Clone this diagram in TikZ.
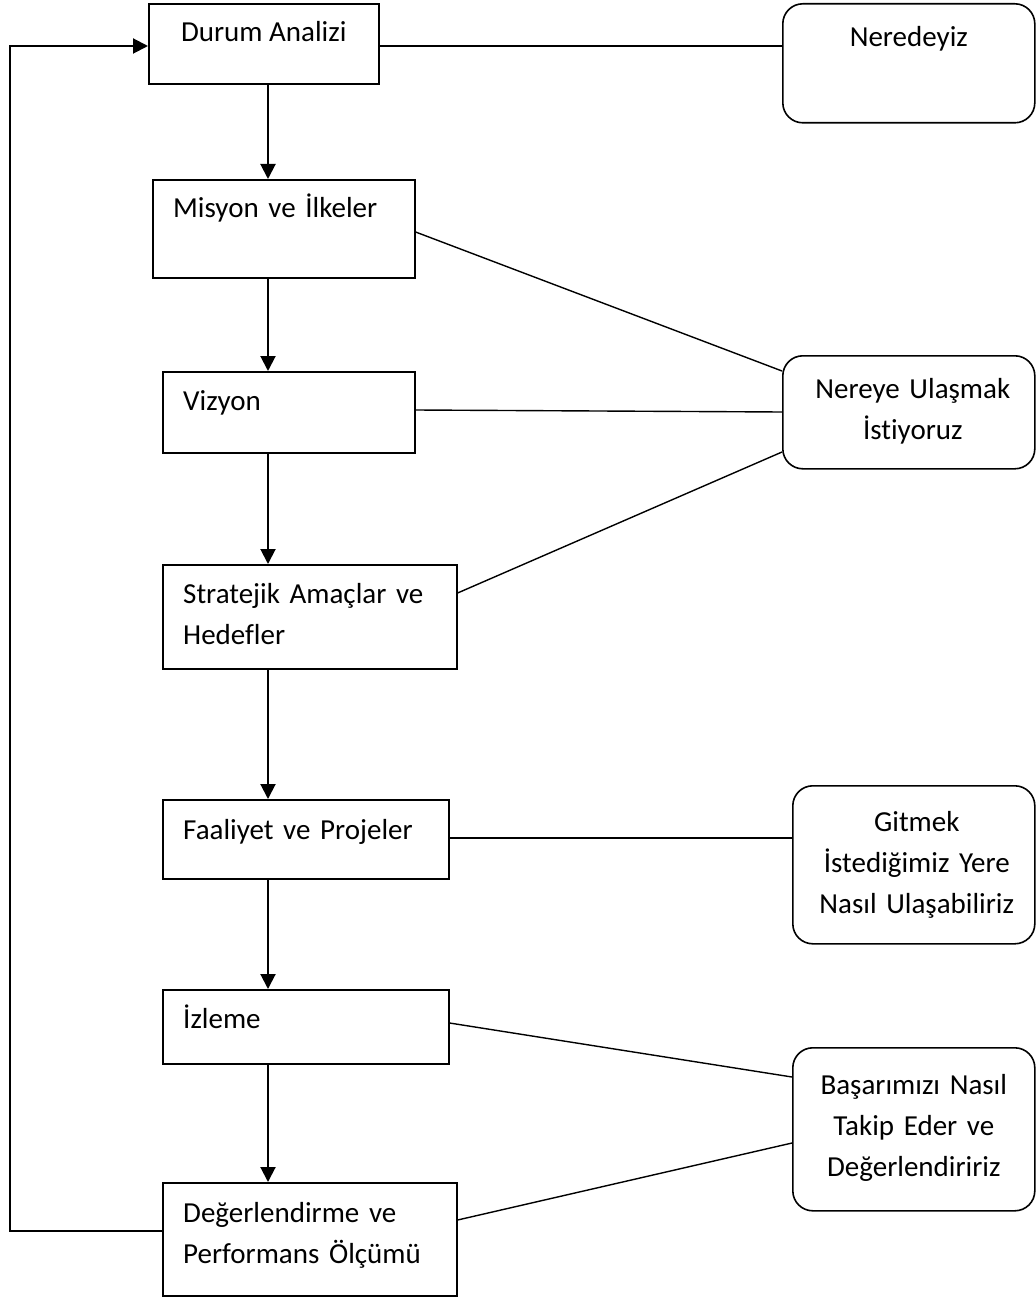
\documentclass[tikz,border=0pt]{standalone}
\usepackage{fontspec}
\setmainfont{Carlito}[Ligatures=CommonOff]
\usetikzlibrary{arrows.meta}
\begin{document}
\begin{tikzpicture}[x=1pt,y=-1pt,
  box/.style={draw, line width=1.6pt, inner sep=0pt, anchor=north west},
  rbox/.style={box, rounded corners=20pt},
  lbl/.style={font=\fontsize{29}{41}\selectfont, inner sep=0pt},
  ltxt/.style={lbl, text width=#1, align=left, anchor=base west},
  ctxt/.style={lbl, text width=240pt, align=center, anchor=base},
  link/.style={line width=1.4pt},
  arr/.style={line width=2pt, -{Triangle[length=15pt,width=15pt]}}]
\useasboundingbox (0,0) rectangle (1035,1297);

% process steps (left column)
\node[box, minimum width=230pt, minimum height=80pt]  (durum)  at (148,3)    {};
\node[box, minimum width=262pt, minimum height=98pt]  (misyon) at (152,179)  {};
\node[box, minimum width=252pt, minimum height=81pt]  (vizyon) at (162,371)  {};
\node[box, minimum width=294pt, minimum height=104pt] (strat)  at (162,564)  {};
\node[box, minimum width=286pt, minimum height=79pt]  (faal)   at (162,799)  {};
\node[box, minimum width=286pt, minimum height=74pt]  (izle)   at (162,989)  {};
\node[box, minimum width=294pt, minimum height=113pt] (deger)  at (162,1182) {};

\node[lbl, anchor=base] (tdurum) at ([yshift=-39pt]durum.north) {Durum Analizi};
\node[ltxt=240pt] (tmisyon) at ([xshift=21pt,yshift=-39pt]misyon.north west) {Misyon ve İlkeler};
\node[ltxt=220pt] (tvizyon) at ([xshift=21pt,yshift=-39pt]vizyon.north west) {Vizyon};
\node[ltxt=270pt] (tstrat)  at ([xshift=21pt,yshift=-39pt]strat.north west)  {Stratejik Amaçlar ve\\Hedefler};
\node[ltxt=260pt] (tfaal)   at ([xshift=21pt,yshift=-40pt]faal.north west)   {Faaliyet ve Projeler};
\node[ltxt=260pt] (tizle)   at ([xshift=21pt,yshift=-39pt]izle.north west)   {İzleme};
\node[ltxt=270pt] (tdeger)  at ([xshift=21pt,yshift=-40pt]deger.north west)  {Değerlendirme ve\\Performans Ölçümü};

% questions (right column)
\node[rbox, minimum width=252pt, minimum height=119pt] (nered)  at (782,3)    {};
\node[rbox, minimum width=252pt, minimum height=113pt] (nereye) at (782,355)  {};
\node[rbox, minimum width=242pt, minimum height=158pt] (gitmek) at (792,785)  {};
\node[rbox, minimum width=242pt, minimum height=163pt] (basari) at (792,1047) {};

\node[ctxt] (tnered)  at ([yshift=-44pt]nered.north)  {Neredeyiz};
\node[ctxt] (tnereye) at ([xshift=4pt,yshift=-43pt]nereye.north) {Nereye Ulaşmak\\İstiyoruz};
\node[ctxt] (tgitmek) at ([xshift=3pt,yshift=-46pt]gitmek.north) {Gitmek\\İstediğimiz Yere\\Nasıl Ulaşabiliriz};
\node[ctxt] (tbasari) at ([yshift=-47pt]basari.north) {Başarımızı Nasıl\\Takip Eder ve\\Değerlendiririz};

% main flow
\coordinate (ax) at (268,0);
\draw[arr] (durum.south -| ax)  -- (misyon.north -| ax);
\draw[arr] (misyon.south -| ax) -- (vizyon.north -| ax);
\draw[arr] (vizyon.south -| ax) -- (strat.north -| ax);
\draw[arr] (strat.south -| ax)  -- (faal.north -| ax);
\draw[arr] (faal.south -| ax)   -- (izle.north -| ax);
\draw[arr] (izle.south -| ax)   -- (deger.north -| ax);

% feedback loop
\coordinate (fb) at (10,1231);
\coordinate (top) at (0,46);
\draw[arr] (deger.west |- fb) -- (fb) |- (durum.west |- top);

% links to the questions
\draw[link] (durum.east |- 0,46)   -- (nered.west |- 0,46);
\draw[link] (misyon.east |- 0,232) -- (nereye.west |- 0,371);
\draw[link] (vizyon.east |- 0,410) -- (nereye.west |- 0,412);
\draw[link] (strat.east |- 0,593)  -- (nereye.west |- 0,452);
\draw[link] (faal.east |- 0,838)   -- (gitmek.west |- 0,838);
\draw[link] (izle.east |- 0,1023)  -- (basari.west |- 0,1077);
\draw[link] (deger.east |- 0,1220) -- (basari.west |- 0,1143);
\end{tikzpicture}
\end{document}
